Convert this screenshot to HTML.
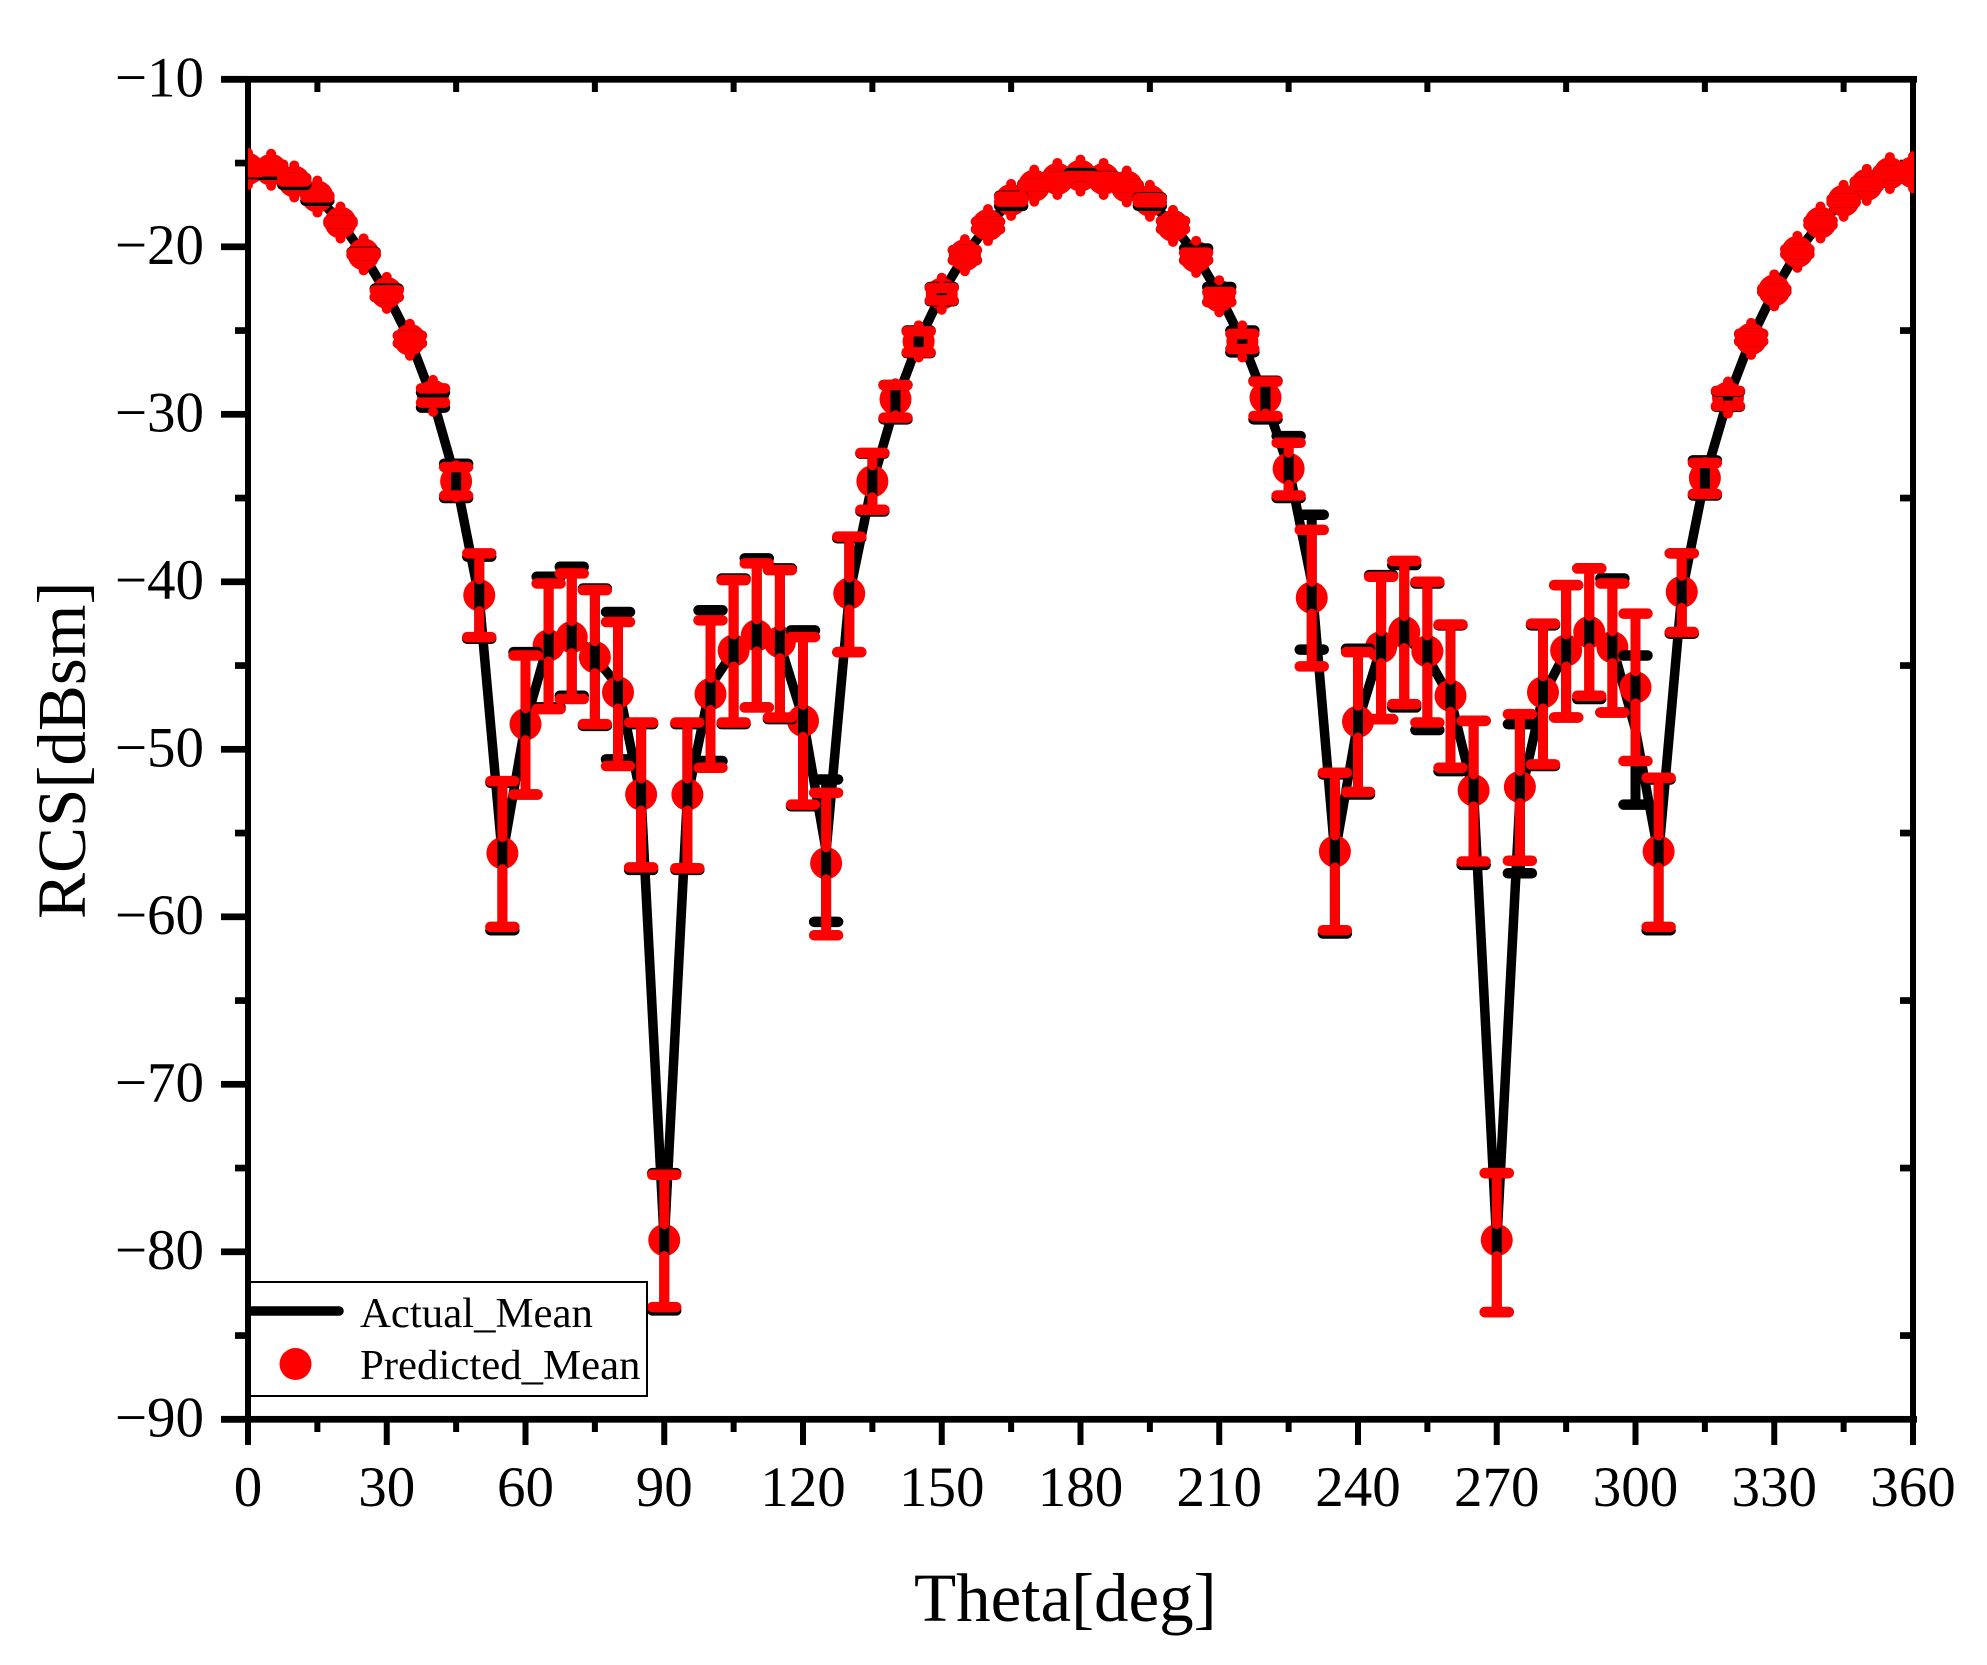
<!DOCTYPE html>
<html lang="en">
<head>
<meta charset="utf-8">
<title>RCS vs Theta</title>
<style>
html,body{margin:0;padding:0;background:#fff;}
svg{display:block;}
text{font-family:"Liberation Serif","Times New Roman",serif;fill:#000;}
</style>
</head>
<body>
<svg id="chart" xmlns="http://www.w3.org/2000/svg" width="1987" height="1665" viewBox="0 0 1987 1665">
  <rect x="0" y="0" width="1987" height="1665" fill="#fff"/>
  <defs><clipPath id="plot-clip"><rect x="248" y="76" width="1666" height="1347"/></clipPath></defs>
  <g id="axes"></g>
  <g id="marks" clip-path="url(#plot-clip)"></g>
  <text x="914" y="1621" font-size="69">Theta[deg]</text>
  <text transform="translate(85 919) rotate(-90)" font-size="69">RCS[dBsm]</text>
  <g>
    <rect x="250" y="1282" width="397" height="114" fill="#fff" stroke="#000" stroke-width="2"/>
    <line x1="252" y1="1311" x2="339" y2="1311" stroke="#000" stroke-width="9.5" stroke-linecap="round"/>
    <text x="360" y="1327" font-size="42.8">Actual_Mean</text>
    <circle cx="295.5" cy="1364" r="16" fill="#f00"/>
    <text x="360" y="1379" font-size="42.8">Predicted_Mean</text>
  </g>
</svg>
<script>
const thetas = [0,5,10,15,20,25,30,35,40,45,50,55,60,65,70,75,80,85,90,95,100,105,110,115,120,125,130,135,140,145,150,155,160,165,170,175,180,185,190,195,200,205,210,215,220,225,230,235,240,245,250,255,260,265,270,275,280,285,290,295,300,305,310,315,320,325,330,335,340,345,350,355,360];
const actualMean = [-15.45,-15.45,-16.13,-17,-18.53,-20.48,-22.8,-25.53,-29.15,-33.98,-40.95,-56.4,-48.45,-43.6,-42.95,-44.5,-46.2,-52.85,-79.4,-52.85,-46.2,-44.15,-43.05,-43.7,-48.15,-56.05,-40.8,-34.08,-29.33,-25.65,-22.78,-20.5,-18.7,-17.23,-16.35,-15.95,-15.75,-15.95,-16.43,-17.28,-18.7,-20.5,-22.85,-25.65,-29.18,-33.15,-40.03,-56.25,-48.35,-43.9,-43.25,-44.48,-46.95,-52.6,-79.45,-52.95,-46.8,-44.15,-43.1,-43.8,-48.85,-56.3,-40.7,-33.8,-29.08,-25.48,-22.63,-20.3,-18.55,-17.28,-16.3,-15.63,-15.58];
const actualUpper = [-15.1,-15.1,-15.9,-16.95,-18.46,-20.3,-22.5,-25.3,-28.7,-32.95,-38.5,-52,-44.2,-39.7,-39.1,-40.4,-41.8,-48.5,-75.3,-48.5,-41.7,-39.8,-38.6,-39.2,-42.9,-51.8,-37.4,-32.35,-28.25,-25,-22.4,-20.2,-18.5,-16.95,-16.25,-15.8,-15.6,-15.78,-16.3,-17.05,-18.46,-20.1,-22.4,-25,-28,-31.3,-36,-51.5,-44,-39.6,-39,-40.1,-42.6,-48.3,-75.3,-48.5,-42.6,-40.2,-39.2,-39.8,-44.4,-51.8,-38.3,-32.75,-28.65,-25.2,-22.5,-20.15,-18.45,-17.15,-16.1,-15.45,-15.4];
const actualLower = [-15.65,-15.7,-16.3,-17.25,-18.6,-20.5,-23,-25.76,-29.6,-35,-43.4,-60.8,-52.7,-47.5,-46.8,-48.6,-50.6,-57.2,-83.5,-57.2,-50.7,-48.5,-47.5,-48.2,-53.4,-60.3,-44.2,-35.8,-30.3,-26.35,-23.25,-20.8,-18.95,-17.56,-16.4,-16,-15.8,-16,-16.45,-17.55,-18.95,-20.8,-23.3,-26.3,-30.3,-35,-44.05,-61,-52.7,-48.2,-47.5,-48.85,-51.3,-56.9,-83.6,-57.4,-51,-48.1,-47,-47.8,-53.3,-60.8,-43.1,-34.85,-29.55,-25.65,-22.7,-20.45,-18.7,-17.35,-16.4,-15.75,-15.7];
const predictedMean = [-15.35,-15.4,-16.1,-17,-18.55,-20.45,-22.75,-25.55,-28.9,-34,-40.8,-56.2,-48.5,-43.8,-43.3,-44.5,-46.6,-52.7,-79.3,-52.7,-46.7,-44.1,-43.2,-43.6,-48.3,-56.8,-40.7,-34,-29.1,-25.65,-22.8,-20.5,-18.7,-17.2,-16.35,-15.95,-15.75,-15.95,-16.4,-17.25,-18.75,-20.6,-22.95,-25.65,-29,-33.25,-40.95,-56.1,-48.35,-43.9,-43,-44.15,-46.8,-52.45,-79.3,-52.25,-46.6,-44.1,-43,-43.9,-46.3,-56.1,-40.6,-33.8,-29,-25.5,-22.6,-20.3,-18.55,-17.25,-16.3,-15.6,-15.55];
const predictedUpper = [-15.1,-15.1,-15.9,-16.95,-18.46,-20.35,-22.6,-25.3,-28.45,-33.15,-38.3,-51.9,-44.4,-40.1,-39.5,-40.5,-42.4,-48.4,-75.4,-48.4,-42.3,-39.9,-38.9,-39.3,-43.3,-52.6,-37.3,-32.3,-28.25,-25.05,-22.45,-20.2,-18.5,-17,-16.25,-15.8,-15.78,-15.8,-16.3,-17.1,-18.46,-20.35,-22.7,-25.2,-28.05,-31.7,-36.9,-51.4,-44.2,-39.7,-38.75,-40,-42.55,-48.3,-75.3,-47.9,-42.5,-40.2,-39.2,-40.1,-41.9,-51.7,-38.3,-32.9,-28.6,-25.2,-22.5,-20.15,-18.45,-17.15,-16.1,-15.45,-15.4];
const predictedLower = [-15.55,-15.5,-16.1,-17.05,-18.6,-20.5,-23,-25.76,-29.3,-34.85,-43.3,-60.6,-52.7,-47.6,-47,-48.5,-51,-57.05,-83.3,-57.1,-51.1,-48.4,-47.5,-48.1,-53.3,-61.1,-44.2,-35.7,-30.2,-26.3,-23.2,-20.8,-18.95,-17.3,-16.4,-16,-15.8,-16,-16.45,-17.35,-18.95,-20.8,-23.3,-26.1,-30.1,-34.85,-45.05,-60.8,-52.55,-48.2,-47.3,-48.4,-51.1,-56.7,-83.6,-56.65,-50.9,-48.1,-46.8,-47.8,-50.7,-60.6,-43,-34.75,-29.5,-25.65,-22.7,-20.45,-18.7,-17.35,-16.4,-15.75,-15.7];
const xTickValues = [0,30,60,90,120,150,180,210,240,270,300,330,360];
const xMinorValues = [15,45,75,105,135,165,195,225,255,285,315,345];
const yTickValues = [-10,-20,-30,-40,-50,-60,-70,-80,-90];
const yMinorValues = [-15,-25,-35,-45,-55,-65,-75,-85];

const SVGNS = 'http://www.w3.org/2000/svg';
const xAxis = v => 248 + (v - 0) * (1913 - 248) / 360;
const yAxis = v => 79.3 + (-10 - v) * (1419.3 - 79.3) / 80;
const axes = document.getElementById('axes');
const marks = document.getElementById('marks');

function make(tag, attrs, parent) {
  const el = document.createElementNS(SVGNS, tag);
  for (const k in attrs) el.setAttribute(k, attrs[k]);
  parent.appendChild(el);
  return el;
}

/* black actual line goes underneath the markers */
const actualLine = make('polyline', {
  points: thetas.map((t, i) => xAxis(t) + ',' + yAxis(actualMean[i])).join(' '),
  fill: 'none', stroke: '#000', 'stroke-width': 9.5, 'stroke-linejoin': 'round'
}, marks);



/* red circle markers */
thetas.forEach((t, i) => {
  const c = make('circle', {cx: xAxis(t), cy: yAxis(predictedMean[i]), r: 16, fill: '#f00'}, marks);
  
  
});

/* black error bars */
thetas.forEach((t, i) => {
  const x = xAxis(t), yu = yAxis(actualUpper[i]), yl = yAxis(actualLower[i]);
  const g = make('g', {stroke: '#000', fill: 'none'}, marks);
  
  
  make('line', {x1: x, x2: x, y1: yu, y2: yl, 'stroke-width': 10}, g);
  make('line', {x1: x - 12, x2: x + 12, y1: yu, y2: yu, 'stroke-width': 10.5, 'stroke-linecap': 'round'}, g);
  make('line', {x1: x - 12, x2: x + 12, y1: yl, y2: yl, 'stroke-width': 10.5, 'stroke-linecap': 'round'}, g);
});

/* red error bars: stems start at the marker edge and leave a gap over the marker */
thetas.forEach((t, i) => {
  const x = xAxis(t), y = yAxis(predictedMean[i]);
  const yu = yAxis(predictedUpper[i]), yl = yAxis(predictedLower[i]);
  const g = make('g', {stroke: '#f00', fill: 'none', 'stroke-linecap': 'round'}, marks);
  
  
  make('line', {x1: x, x2: x, y1: y - 16, y2: Math.min(yu, y - 16.01), 'stroke-width': 10}, g);
  make('line', {x1: x, x2: x, y1: y + 16, y2: Math.max(yl, y + 16.01), 'stroke-width': 10}, g);
  make('line', {x1: x - 12, x2: x + 12, y1: yu, y2: yu, 'stroke-width': 10.5}, g);
  make('line', {x1: x - 12, x2: x + 12, y1: yl, y2: yl, 'stroke-width': 10.5}, g);
});

/* frame */
const H = 6.7, V = 6;
const topSpine = make('rect', {x: 221, y: yAxis(-10) - H / 2, width: 1917 - 221, height: H, fill: '#000'}, axes);


const bottomSpine = make('rect', {x: 221, y: yAxis(-90) - H / 2, width: 1917 - 221, height: H, fill: '#000'}, axes);


const leftSpine = make('rect', {x: xAxis(0) - V / 2, y: 76, width: V, height: 1445 - 76, fill: '#000'}, axes);


const rightSpine = make('rect', {x: xAxis(360) - V / 2, y: 76, width: V, height: 1445 - 76, fill: '#000'}, axes);



/* x ticks */
xTickValues.forEach(v => {
  const tick = make('rect', {x: xAxis(v) - 3, y: 1420, width: 6, height: 25, fill: '#000'}, axes);
  
  
  const label = make('text', {x: xAxis(v), y: 1506, 'font-size': 57, 'text-anchor': 'middle'}, axes);
  
  
  label.textContent = String(v);
});
xMinorValues.forEach(v => {
  const tick = make('rect', {x: xAxis(v) - 3, y: 1420, width: 6, height: 12, fill: '#000'}, axes);
  
  
  const topTick = make('rect', {x: xAxis(v) - 3, y: 80, width: 6, height: 12, fill: '#000'}, axes);
  
  
});

/* y ticks */
yTickValues.forEach(v => {
  const tick = make('rect', {x: 221, y: yAxis(v) - H / 2, width: 27, height: H, fill: '#000'}, axes);
  
  
  const label = make('text', {x: 204, y: yAxis(v) + 17, 'font-size': 57, 'text-anchor': 'end'}, axes);
  
  
  label.textContent = '\u2212' + Math.abs(v);
});
yMinorValues.forEach(v => {
  const tick = make('rect', {x: 235, y: yAxis(v) - H / 2, width: 13, height: H, fill: '#000'}, axes);
  
  
  const rightTick = make('rect', {x: 1900, y: yAxis(v) - H / 2, width: 13, height: H, fill: '#000'}, axes);
  
  
});
</script>
</body>
</html>
